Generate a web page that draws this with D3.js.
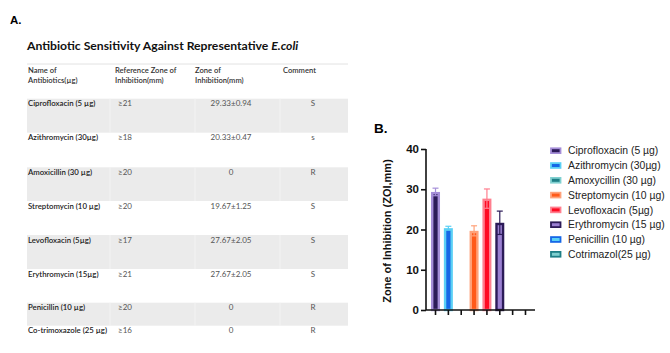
<!DOCTYPE html>
<html>
<head>
<meta charset="utf-8">
<script src="https://cdn.jsdelivr.net/npm/d3@7"></script>
<style>
  body { margin: 0; background: #fff; }
  svg { display: block; }
</style>
</head>
<body>
<script>
// table data (panel A)
const tableNames = ["Ciprofloxacin (5 µg)", "Azithromycin (30µg)", "Amoxicillin (30 µg)", "Streptomycin (10 µg)",
    "Levofloxacin (5µg)", "Erythromycin (15µg)", "Penicillin (10 µg)", "Co-trimoxazole (25 µg)"];
const refZone = ["≥21", "≥18", "≥20", "≥20", "≥17", "≥21", "≥20", "≥16"];
const zoneText = ["29.33±0.94", "20.33±0.47", "0", "19.67±1.25", "27.67±2.05", "27.67±2.05", "0", "0"];
const comments = ["S", "s", "R", "S", "S", "S", "R", "R"];

// bar chart data (panel B)
const legendNames = ["Ciprofloxacin (5 µg)", "Azithromycin (30µg)", "Amoxycillin (30 µg)", "Streptomycin (10 µg)",
    "Levofloxacin (5µg)", "Erythromycin (15 µg)", "Penicillin (10 µg)", "Cotrimazol(25 µg)"];
const means = [29.33, 20.33, 0, 19.67, 27.67, 21.67, 0, 0];
const errs = [0.94, 0.47, 0, 1.25, 2.4, 2.9, 0, 0];
const fills = ["#2c1b58", "#1667e6", "#1e7f86", "#ff5a1a", "#ff0a22", "#9b80d2", "#5ad0f5", "#7fcfcf"];
const strokes = ["#a58ed8", "#5ad0f5", "#80d0d0", "#ffa27a", "#ff7f8f", "#2c1b58", "#1667e6", "#1e7f86"];
const yTicks = [0, 10, 20, 30, 40];

const svg = d3.select("body").append("svg")
    .attr("width", 670)
    .attr("height", 353);

// ---------- panel A : table ----------
svg.append("text").attr("x", 10).attr("y", 24)
    .style("font", "bold 11.5px 'Liberation Sans', Arial")
    .text("A.");

const title = svg.append("text").attr("x", 27).attr("y", 50)
    .style("font", "bold 12.2px Lato, 'Open Sans', sans-serif")
    .attr("fill", "#111");
title.append("tspan").text("Antibiotic Sensitivity Against Representative ");
title.append("tspan").style("font-style", "italic").text("E.coli");

const rowH = [34, 34.6, 33.7, 34, 34, 33.7, 23, 23];
const rowTop = d3.cumsum([98.7].concat(rowH.slice(0, -1)));
const colX = [28, 113, 195, 283];

svg.append("line").attr("x1", 27).attr("x2", 348).attr("y1", 64).attr("y2", 64)
    .attr("stroke", "#e2e2e2").attr("stroke-width", 1);

const headers = [["Name of", "Antibiotics(µg)"], ["Reference Zone of", "Inhibition(mm)"], ["Zone of", "Inhibition(mm)"], ["Comment"]];
headers.forEach((h, i) => {
    h.forEach((line, j) => {
        svg.append("text").attr("x", colX[i] + (i === 1 ? 2 : 0)).attr("y", 72.5 + j * 10)
            .style("font", "600 7.6px Lato, sans-serif").attr("fill", "#333")
            .text(line);
    });
});

const rows = svg.append("g").selectAll("g").data(tableNames).join("g")
    .attr("transform", (d, i) => `translate(0,${rowTop[i]})`);

const shaded = rows.filter((d, i) => i % 2 === 0 && i < 7);
shaded.append("rect")
    .attr("x", 27).attr("width", 321)
    .attr("height", d => rowH[tableNames.indexOf(d)])
    .attr("fill", "#ebebeb");
shaded.each(function (d) {
    d3.select(this).selectAll("line.sep").data([110, 195, 280]).join("line")
        .attr("x1", v => v).attr("x2", v => v).attr("y1", 0)
        .attr("y2", rowH[tableNames.indexOf(d)])
        .attr("stroke", "#f3f3f3").attr("stroke-width", 1);
});

rows.append("text").attr("x", colX[0]).attr("y", 7.5)
    .style("font", "600 7.8px Lato, sans-serif").attr("fill", "#222")
    .text(d => d);
rows.append("text").attr("x", 118).attr("y", 7.5)
    .style("font", "8px Lato, sans-serif").attr("fill", "#555")
    .text((d, i) => refZone[i]);
rows.append("text").attr("x", 231).attr("y", 7.5).attr("text-anchor", "middle")
    .style("font", "8px Lato, sans-serif").attr("fill", "#555")
    .text((d, i) => zoneText[i]);
rows.append("text").attr("x", 313).attr("y", 7.5).attr("text-anchor", "middle")
    .style("font", "8px Lato, sans-serif").attr("fill", "#555")
    .text((d, i) => comments[i]);

// ---------- panel B : bar chart ----------
svg.append("text").attr("x", 374).attr("y", 133)
    .style("font", "bold 13.5px 'Liberation Sans', Arial")
    .text("B.");

const x = d3.scaleBand().domain(legendNames).range([426, 535])
    .paddingInner(0.3).paddingOuter(0.39);
const y = d3.scaleLinear().domain([0, 40]).range([310, 149]);

const bars = svg.append("g").selectAll("g").data(legendNames).join("g");
const sw = 2.4;
bars.append("rect")
    .attr("x", d => x(d) + sw / 2)
    .attr("width", x.bandwidth() - sw)
    .attr("y", (d, i) => y(means[i]) + sw / 2)
    .attr("height", (d, i) => Math.max(0, y(0) - y(means[i]) - sw / 2))
    .attr("fill", (d, i) => fills[i])
    .attr("stroke", (d, i) => strokes[i])
    .attr("stroke-width", sw)
    .style("display", (d, i) => means[i] > 0 ? null : "none");

// error bars
const eb = bars.filter((d, i) => means[i] > 0);
const ix = d => legendNames.indexOf(d);
eb.append("line")
    .attr("x1", d => x(d) + x.bandwidth() / 2).attr("x2", d => x(d) + x.bandwidth() / 2)
    .attr("y1", d => y(means[ix(d)] - errs[ix(d)]))
    .attr("y2", d => y(means[ix(d)] + errs[ix(d)]))
    .attr("stroke", d => strokes[ix(d)]).attr("stroke-width", 1.2);
[1, -1].forEach(s => {
    eb.append("line")
        .attr("x1", d => x(d) + x.bandwidth() / 2 - 3).attr("x2", d => x(d) + x.bandwidth() / 2 + 3)
        .attr("y1", d => y(means[ix(d)] + s * errs[ix(d)]))
        .attr("y2", d => y(means[ix(d)] + s * errs[ix(d)]))
        .attr("stroke", d => strokes[ix(d)]).attr("stroke-width", 1.2);
});

// axes
const yAxis = svg.append("g").attr("transform", "translate(426,0)")
    .call(d3.axisLeft(y).tickValues(yTicks).tickSize(5).tickPadding(2));
const xAxis = svg.append("g").attr("transform", "translate(0,310)")
    .call(d3.axisBottom(x).tickSize(5).tickFormat(""));
[yAxis, xAxis].forEach(a => {
    a.select(".domain").attr("stroke", "#111").attr("stroke-width", 1.6);
    a.selectAll(".tick line").attr("stroke", "#111").attr("stroke-width", 1.6);
});
yAxis.select(".domain").attr("d", "M0,149V310");
xAxis.select(".domain").attr("d", "M426,0H535");
yAxis.selectAll(".tick text")
    .style("font", "bold 11.5px 'Liberation Sans', Arial").attr("fill", "#111");

svg.append("text")
    .attr("transform", "translate(391,231) rotate(-90)")
    .attr("text-anchor", "middle")
    .style("font", "bold 11px 'Liberation Sans', Arial").attr("fill", "#111")
    .text("Zone of Inhibition (ZOI,mm)");

// legend
const leg = svg.append("g").selectAll("g").data(legendNames).join("g")
    .attr("transform", (d, i) => `translate(550,${150.7 + i * 14.8})`);
leg.append("rect")
    .attr("x", 1).attr("y", -2.4).attr("width", 9.5).attr("height", 4.8)
    .attr("fill", (d, i) => fills[i])
    .attr("stroke", (d, i) => strokes[i]).attr("stroke-width", 1.8);
leg.append("text").attr("x", 18).attr("y", 3.7)
    .style("font", "10.4px 'Liberation Sans', Arial").attr("fill", "#222")
    .text(d => d);
</script>
</body>
</html>
